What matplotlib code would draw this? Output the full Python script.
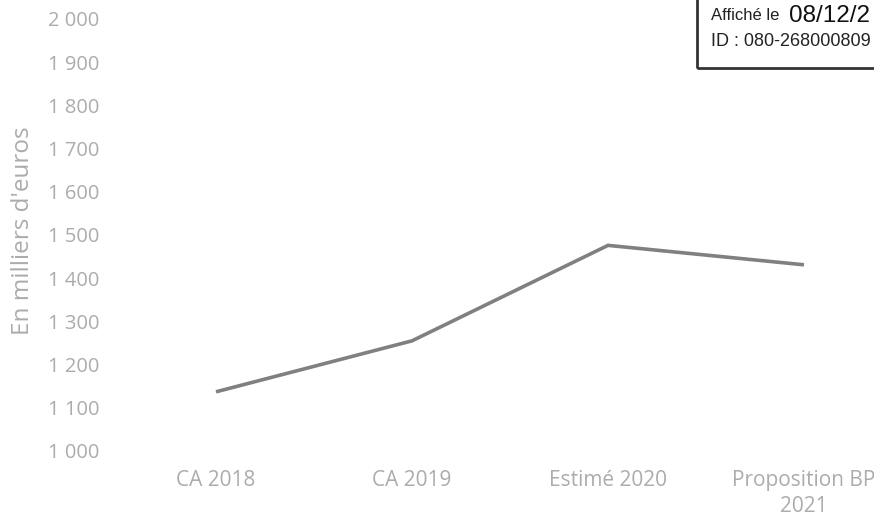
import matplotlib.pyplot as plt
from matplotlib.patches import Rectangle

categories = ["CA 2018", "CA 2019", "Estimé 2020", "Proposition BP\n2021"]
values = [1137, 1255, 1476, 1431]
yticks = [1000, 1100, 1200, 1300, 1400, 1500, 1600, 1700, 1800, 1900, 2000]

plt.rcParams['font.family'] = ['Open Sans', 'DejaVu Sans']

W, H = 874, 517
fig = plt.figure(figsize=(W / 100, H / 100), dpi=100)
ax = fig.add_axes([118 / W, (H - 451) / H, 784 / W, 432 / H])

x = range(len(categories))
ax.plot(x, values, color='#808080', lw=2.6, solid_capstyle='butt')

ax.set_xlim(-0.5, 3.5)
ax.set_ylim(1000, 2000)
ax.set_xticks(list(x))
ax.set_xticklabels(categories, color='#acacac', fontsize=15, linespacing=1.3)
ax.set_yticks(yticks)
ax.set_yticklabels([f"{v:,}".replace(",", " ") for v in yticks],
                   color='#acacac', fontsize=14.5)
ax.tick_params(length=0)
ax.tick_params(axis='y', pad=13.5)
ax.tick_params(axis='x', pad=14)
for s in ax.spines.values():
    s.set_visible(False)

fig.text(23 / W, 1 - 231 / H, "En milliers d'euros", rotation=90,
         color='#acacac', fontsize=17.5, ha='center', va='center')

# stamp box in the top right corner (cut by the page edge in the source)
fig.patches.append(Rectangle((697 / W, 1 - 68 / H), 0.3, 0.3,
                             transform=fig.transFigure, fill=False,
                             edgecolor='#333333', lw=2))
fig.text(711 / W, 1 - 16 / H, "Affiché le", family='Liberation Sans',
         fontsize=12, va='center', color='#222222')
fig.text(789 / W, 1 - 16 / H, "08/12/2", family='Liberation Sans',
         fontsize=17.5, va='center', color='#111111')
fig.text(711 / W, 1 - 42 / H, "ID : 080-268000809", family='Liberation Sans',
         fontsize=13, va='center', color='#222222')

fig.savefig("out.png", dpi=100)
